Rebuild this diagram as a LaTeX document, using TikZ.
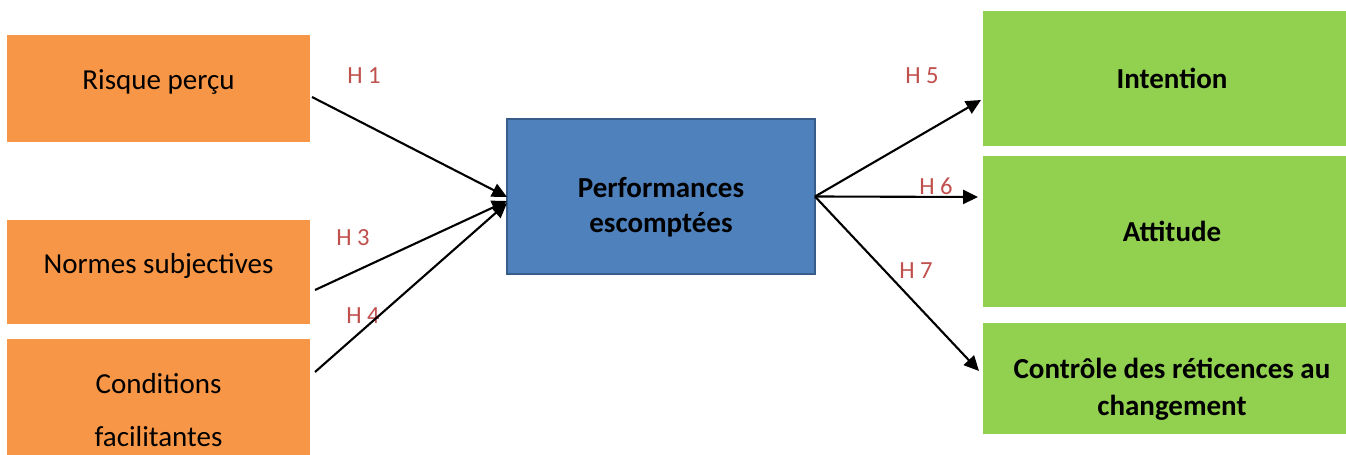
\documentclass[tikz,border=0pt]{standalone}
\usepackage{fontspec}
\setmainfont{Carlito}
\usetikzlibrary{arrows.meta,positioning}
\definecolor{factor}{HTML}{F79646}
\definecolor{central}{HTML}{4F81BD}
\definecolor{centralborder}{HTML}{385D8A}
\definecolor{outcome}{HTML}{92D050}
\definecolor{hyp}{HTML}{C0504D}

\begin{document}
\begin{tikzpicture}[
  font=\fontsize{16.5}{20}\selectfont,
  box/.style={align=center, outer sep=0pt, inner sep=4pt},
  flow/.style={-{Triangle[length=8.5pt,width=8pt]}, line width=1.2pt, draw=black},
  hlabel/.style={font=\fontsize{14}{16}\selectfont, text=hyp}
]
\clip (0,0) rectangle (26.92,-9.1);

\node[box,fill=factor,minimum width=6.06cm,minimum height=2.14cm,text depth=10pt] (risque) at (3.17,-1.77) {Risque perçu};

\node[box,fill=factor,minimum width=6.06cm,minimum height=2.08cm,text depth=10pt,below=1.56cm of risque] (normes) {Normes subjectives};

\node[box,fill=factor,minimum width=6.06cm,minimum height=2.84cm,below=0.3cm of normes,
  font=\fontsize{16.5}{30}\selectfont] (conditions) {Conditions\\facilitantes};

\node[box,fill=central,draw=centralborder,line width=1.1pt,minimum width=6.16cm,minimum height=3.1cm,
  font=\fontsize{16.5}{20}\selectfont\bfseries] (perf) at (13.22,-3.93) {\rule{0pt}{24pt}Performances\\escomptées};

\node[box,fill=outcome,minimum width=7.56cm,minimum height=2.7cm,font=\fontsize{16.5}{20}\selectfont\bfseries] (intention) at (23.44,-1.57) {Intention};

\node[box,fill=outcome,minimum width=7.56cm,minimum height=3.02cm,below=0.2cm of intention,
  font=\fontsize{16.5}{20}\selectfont\bfseries] (attitude) {Attitude};

\node[box,fill=outcome,minimum width=7.56cm,minimum height=2.22cm,below=0.32cm of attitude,
  font=\fontsize{16.5}{21}\selectfont\bfseries] (controle) {\rule{0pt}{24pt}Contrôle des réticences au\\changement};

\node[hlabel] (h1) at (7.28,-1.52) {H 1};
\node[hlabel] (h3) at (7.06,-4.76) {H 3};
\node[hlabel] (h4) at (7.26,-6.32) {H 4};
\node[hlabel] (h5) at (18.44,-1.52) {H 5};
\node[hlabel] (h6) at (18.72,-3.72) {H 6};
\node[hlabel] (h7) at (18.32,-5.42) {H 7};

\draw[flow] ([xshift=0.04cm,yshift=-0.17cm]risque.east) -- ([yshift=-0.01cm]perf.west);
\draw[flow] ([xshift=0.1cm,yshift=-0.36cm]normes.east) -- ([yshift=-0.09cm]perf.west);
\draw[flow] ([xshift=0.1cm,yshift=0.76cm]conditions.east) -- ([yshift=-0.13cm]perf.west);
\draw[flow] (perf.east) -- ([xshift=-0.04cm,yshift=-0.43cm]intention.west);
\draw[flow] (perf.east) -- ([xshift=-0.1cm,yshift=0.69cm]attitude.west);
\draw[flow] (perf.east) -- ([xshift=-0.08cm,yshift=0.15cm]controle.west);

\end{tikzpicture}
\end{document}
